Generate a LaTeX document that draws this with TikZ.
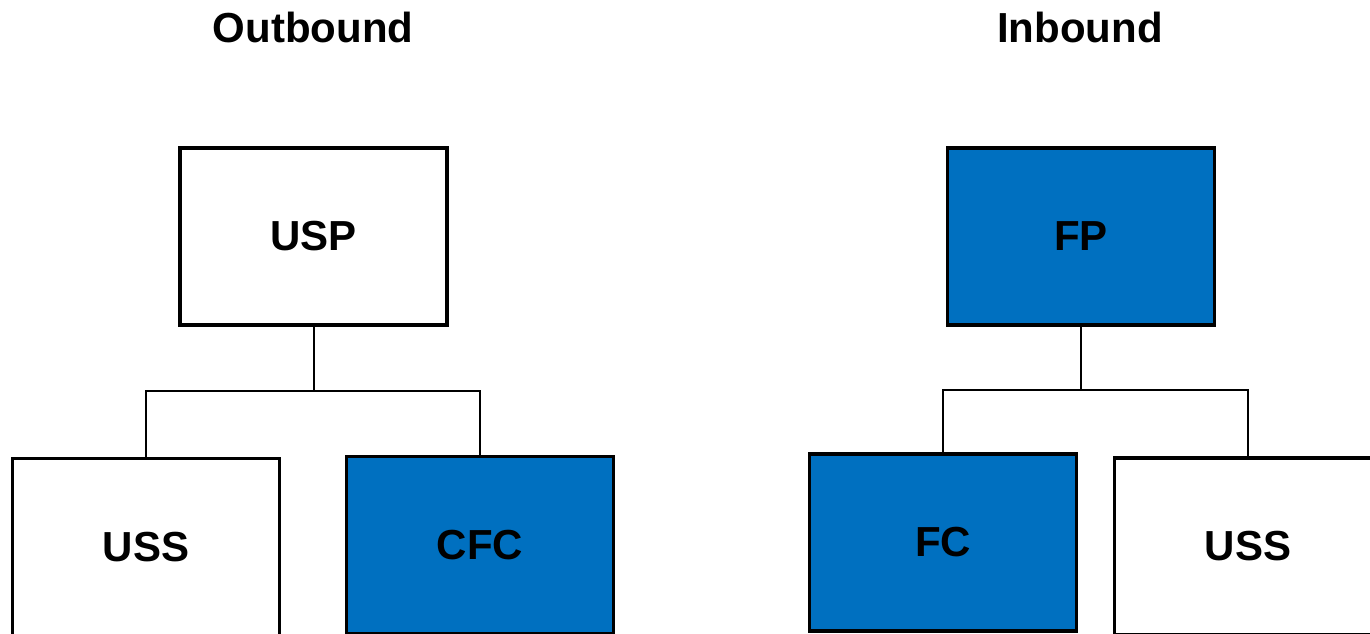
\documentclass[tikz,border=0pt]{standalone}
\usepackage{fontspec}
\setmainfont{Liberation Sans}
\definecolor{boxblue}{RGB}{0,112,192}
\begin{document}
\begin{tikzpicture}[x=1pt,y=-1pt,
  box/.style={draw=black, line width=3.5pt, rectangle, inner sep=0pt,
    minimum width=267pt, minimum height=177pt,
    font=\fontsize{42}{50}\selectfont\bfseries},
  bluebox/.style={box, fill=boxblue},
  whitebox/.style={box, fill=white},
  link/.style={draw=black, line width=2pt},
  title/.style={font=\fontsize{42}{50}\selectfont\bfseries, inner sep=0pt}]
\useasboundingbox (0,0) rectangle (1370,633);
\fill[white] (0,0) rectangle (1370,633);
% titles
\node[title] (tout) at (313,27) {Outbound};
\node[title] (tin) at (1080,27) {Inbound};
% outbound tree
\node[whitebox] (usp) at (313.5,236.5) {USP};
\node[whitebox] (uss1) at (146,547) {USS};
\node[bluebox] (cfc) at (480,545) {CFC};
\coordinate (j1) at (313.5,391);
\draw[link] (usp.south) -- (j1) -| (uss1.north);
\draw[link] (j1) -| (cfc.north);
% inbound tree
\node[bluebox] (fp) at (1081,236.5) {FP};
\node[bluebox] (fc) at (943,542.5) {FC};
\node[whitebox] (uss2) at (1248,546.5) {USS};
\coordinate (j2) at (1081,390);
\draw[link] (fp.south) -- (j2) -| (fc.north);
\draw[link] (j2) -| (uss2.north);
\end{tikzpicture}
\end{document}
